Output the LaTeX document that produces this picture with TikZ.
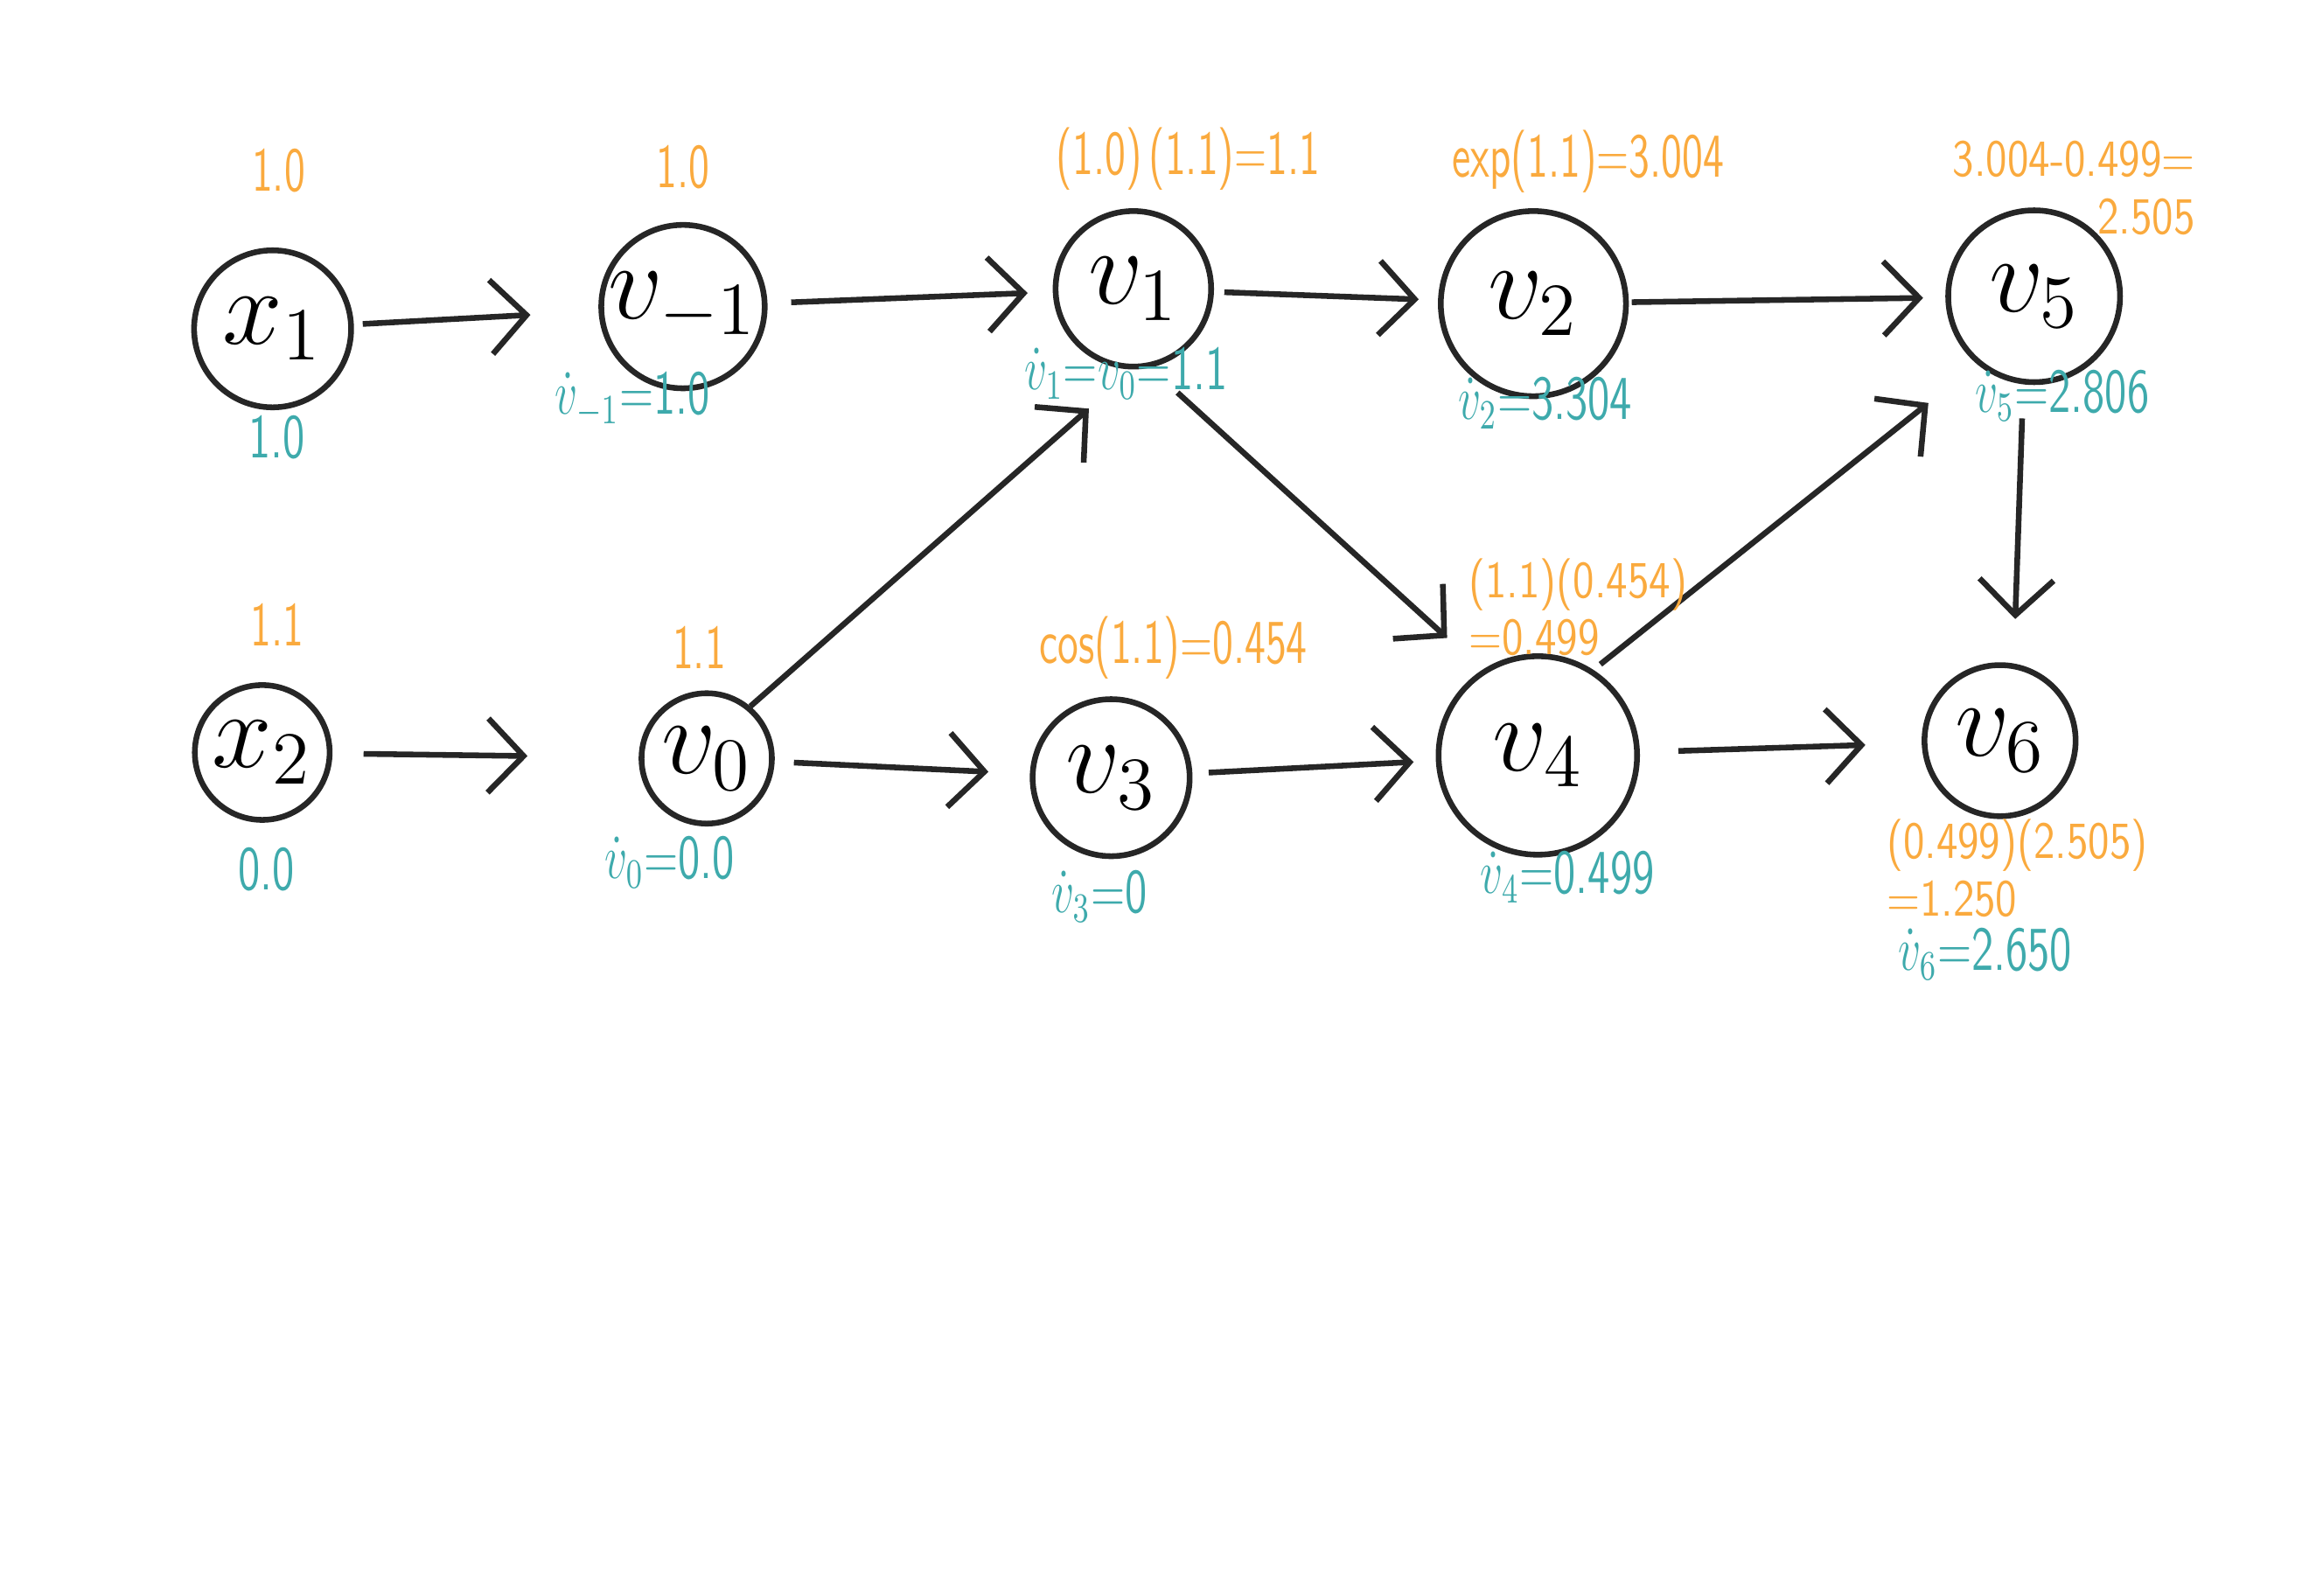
\documentclass[tikz,border=0pt]{standalone}
\usepackage{amsmath}
\usepackage{amssymb}
\usepackage{tikz}
\usetikzlibrary{arrows.meta}

\definecolor{primalc}{RGB}{250,170,62}
\definecolor{tangentc}{RGB}{62,170,172}

\begin{document}
\begin{tikzpicture}[
    vert/.style = {draw=black!85, circle, line width=1.1pt, inner sep=0pt, font=\huge},
    arr/.style = {draw=black!85, line width=1.1pt, -{Straight Barb[length=2.4mm,width=5mm]}},
    primal/.style = {text=primalc, font=\large\sffamily, xscale=.68, inner sep=1pt},
    primalsmall/.style = {text=primalc, font=\normalsize\sffamily, xscale=.82, inner sep=1pt},
    tangent/.style = {text=tangentc, font=\large\sffamily, xscale=.72, inner sep=1pt}
]
    \useasboundingbox (0,0) rectangle (15.68,10.77);
    % graph nodes
    \node[vert, minimum size=1.06cm] (x1) at (1.84,8.55) {$x_1$};
    \node[vert, minimum size=1.05cm] (vm1) at (4.61,8.70) {$v_{-1}$};
    \node[vert, minimum size=1.05cm] (v1) at (7.65,8.82) {$v_1$};
    \node[vert, minimum size=1.25cm] (v2) at (10.35,8.72) {$v_2$};
    \node[vert, minimum size=1.16cm] (v5) at (13.73,8.77) {$v_5$};
    \node[vert, minimum size=0.91cm] (x2) at (1.77,5.69) {$x_2$};
    \node[vert, minimum size=0.88cm] (v0) at (4.77,5.65) {$v_0$};
    \node[vert, minimum size=1.06cm] (v3) at (7.50,5.52) {$v_3$};
    \node[vert, minimum size=1.34cm] (v4) at (10.38,5.67) {$v_4$};
    \node[vert, minimum size=1.02cm] (v6) at (13.50,5.77) {$v_6$};

    % edges
    \draw[arr, shorten <=.06cm, shorten >=.46cm] (x1) -- (vm1);
    \draw[arr, shorten <=.16cm, shorten >=.17cm] (vm1) -- (v1);
    \draw[arr, shorten <=.07cm, shorten >=.13cm] (v1) -- (v2);
    \draw[arr, shorten <=.02cm, shorten >=.15cm] (v2) -- (v5);
    \draw[arr, shorten <=.21cm, shorten >=.75cm] (x2) -- (v0);
    \draw[arr, shorten <=.13cm, shorten >=.28cm] (v0) -- (v3);
    \draw[arr, shorten >=.40cm] (v0.50) -- (v1.270);
    \draw[arr, shorten <=.25cm, shorten >=.32cm] (v1.282) -- (v4.123);
    \draw[arr, shorten <=.11cm, shorten >=.15cm] (v3) -- (v4);
    \draw[arr, shorten <=.06cm, shorten >=.42cm] (v4.57) -- (v5.230);
    \draw[arr, shorten <=.26cm, shorten >=.38cm] (v4) -- (v6);
    \draw[arr, shorten <=.23cm, shorten >=.30cm] (v5.263) -- (v6.80);

    % primal values
    \node[primal] (x1p) at (1.88,9.62) {1.0};
    \node[primal] (vm1p) at (4.61,9.64) {1.0};
    \node[primal] (v1p) at (8.02,9.70) {(1.0)\,(1.1)=1.1};
    \node[primal] (v2p) at (10.72,9.68) {exp(1.1)=3.004};
    \node[primalsmall, align=right, anchor=east] (v5p) at (14.85,9.50) {3.004-0.499=\\[-1pt]2.505};
    \node[primal] (x2p) at (1.87,6.55) {1.1};
    \node[primal] (v0p) at (4.72,6.40) {1.1};
    \node[primal] (v3p) at (7.92,6.40) {cos(1.1)=0.454};
    \node[primalsmall, align=left, anchor=west] (v4p) at (9.88,6.67) {(1.1)(0.454)\\[-1pt]=0.499};
    \node[primalsmall, align=left, anchor=west] (v6p) at (12.70,4.91) {(0.499)(2.505)\\[-1pt]=1.250};

    % tangent values
    \node[tangent] (x1t) at (1.87,7.82) {1.0};
    \node[tangent] (vm1t) at (4.27,8.07) {\(\dot v_{-1}\)=1.0};
    \node[tangent] (v1t) at (7.60,8.25) {\(\dot v_1\)=\(v_0\)=1.1};
    \node[tangent] (v2t) at (10.43,8.05) {\(\dot v_2\)=3.304};
    \node[tangent] (v5t) at (13.92,8.10) {\(\dot v_5\)=2.806};
    \node[tangent] (x2t) at (1.80,4.90) {0.0};
    \node[tangent] (v0t) at (4.52,4.95) {\(\dot v_0\)=0.0};
    \node[tangent] (v3t) at (7.42,4.72) {\(\dot v_3\)=0};
    \node[tangent] (v4t) at (10.58,4.85) {\(\dot v_4\)=0.499};
    \node[tangent] (v6t) at (13.40,4.33) {\(\dot v_6\)=2.650};
\end{tikzpicture}
\end{document}
